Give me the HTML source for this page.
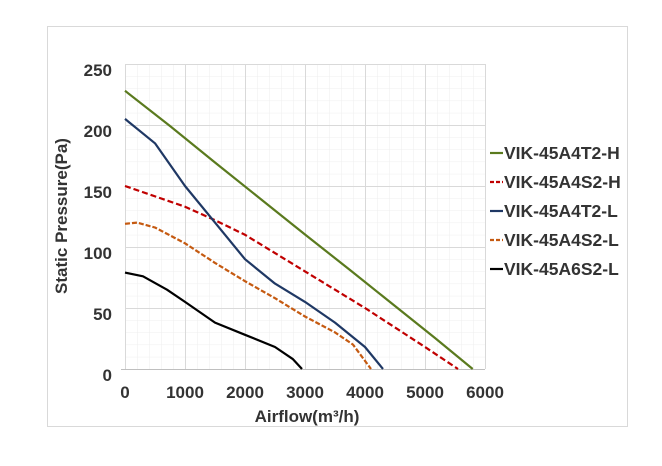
<!DOCTYPE html>
<html><head><meta charset="utf-8"><style>
html,body{margin:0;padding:0;background:#fff;width:662px;height:466px;overflow:hidden}
svg{display:block}
text{font-family:"Liberation Sans",sans-serif;font-weight:bold;fill:#333}
</style></head><body>
<svg width="662" height="466" viewBox="0 0 662 466">
<defs>
<pattern id="mg" x="125" y="64" width="12" height="12.2" patternUnits="userSpaceOnUse">
<path d="M0 0V12.2M0 0H12" stroke="#eeeeee" stroke-width="1" fill="none"/>
</pattern>
</defs>
<rect x="47.5" y="26.5" width="580" height="400" fill="#fff" stroke="#d9d9d9"/>
<rect x="125" y="64" width="360" height="305" fill="url(#mg)"/>
<g stroke="#d9d9d9" stroke-width="1">
<line x1="125" y1="64.5" x2="485" y2="64.5"/>
<line x1="125" y1="125.5" x2="485" y2="125.5"/>
<line x1="125" y1="186.5" x2="485" y2="186.5"/>
<line x1="125" y1="247.5" x2="485" y2="247.5"/>
<line x1="125" y1="308.5" x2="485" y2="308.5"/>
<line x1="185.5" y1="64" x2="185.5" y2="369"/>
<line x1="245.5" y1="64" x2="245.5" y2="369"/>
<line x1="305.5" y1="64" x2="305.5" y2="369"/>
<line x1="365.5" y1="64" x2="365.5" y2="369"/>
<line x1="425.5" y1="64" x2="425.5" y2="369"/>
<line x1="485.5" y1="64" x2="485.5" y2="369"/>
<line x1="125.5" y1="64" x2="125.5" y2="369"/>
</g>
<line x1="121" y1="369.5" x2="485" y2="369.5" stroke="#bfbfbf"/>
<g font-size="17" text-anchor="end">
<text x="112" y="76">250</text>
<text x="112" y="137">200</text>
<text x="112" y="198">150</text>
<text x="112" y="259">100</text>
<text x="112" y="320">50</text>
<text x="112" y="381">0</text>
</g>
<g font-size="17" text-anchor="middle">
<text x="125" y="398">0</text>
<text x="185" y="398">1000</text>
<text x="245" y="398">2000</text>
<text x="305" y="398">3000</text>
<text x="365" y="398">4000</text>
<text x="425" y="398">5000</text>
<text x="485" y="398">6000</text>
</g>
<text x="307" y="422" font-size="17" text-anchor="middle">Airflow(m³/h)</text>
<text transform="translate(67,216) rotate(-90)" font-size="17" text-anchor="middle">Static Pressure(Pa)</text>
<g fill="none" stroke-width="2.2" stroke-linejoin="round">
<polyline stroke="#5a7a1e" points="125,90.8 170,126 215,162.5 260,198.5 305,234.5 350,270 395,306 435,338 472.7,369"/>
<polyline stroke="#c00000" stroke-dasharray="6,3" points="125,186 185,206.7 215,220.2 245,234.8 305,271.4 365,308 425,347 458,369"/>
<polyline stroke="#1f3864" points="125,118.9 155,143.3 185,186 215,222.6 245,259.2 275,283.6 305,301.9 335,322.6 365,347 383,369"/>
<polyline stroke="#c55a11" stroke-dasharray="5,2" points="125,223.8 137,222.6 155,227.5 185,243.3 215,262.9 245,281.2 275,298.2 305,316.5 335,332.4 353,344.6 371,369"/>
<polyline stroke="#000" points="125,272.6 143,276.3 167,289.7 185,301.9 215,322.6 245,334.8 275,347 293,359.2 302,369"/>
</g>
<g stroke-width="2.2">
<line x1="490" y1="153" x2="503" y2="153" stroke="#5a7a1e"/>
<line x1="490" y1="182" x2="503" y2="182" stroke="#c00000" stroke-dasharray="4,2"/>
<line x1="490" y1="211" x2="503" y2="211" stroke="#1f3864"/>
<line x1="490" y1="240" x2="503" y2="240" stroke="#c55a11" stroke-dasharray="4,2"/>
<line x1="490" y1="269" x2="503" y2="269" stroke="#000"/>
</g>
<g font-size="17.5">
<text x="504" y="159">VIK-45A4T2-H</text>
<text x="504" y="188">VIK-45A4S2-H</text>
<text x="504" y="217">VIK-45A4T2-L</text>
<text x="504" y="246">VIK-45A4S2-L</text>
<text x="504" y="275">VIK-45A6S2-L</text>
</g>
</svg>
</body></html>
